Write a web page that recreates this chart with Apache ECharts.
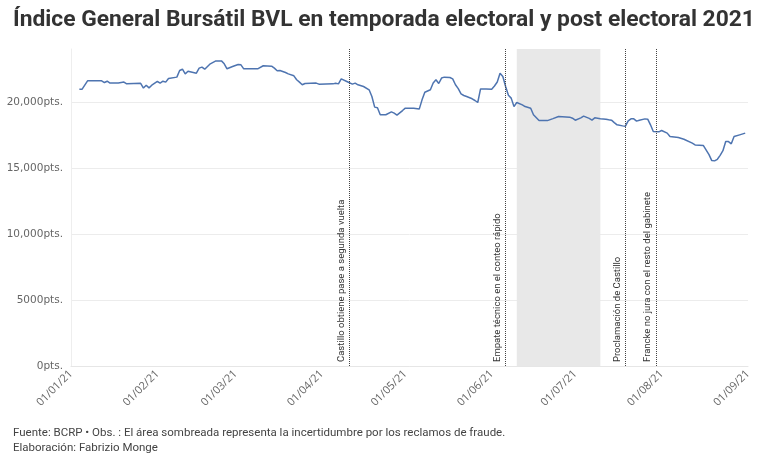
<!DOCTYPE html>
<html>
<head>
<meta charset="utf-8">
<script src="https://cdn.jsdelivr.net/npm/echarts@6/dist/echarts.min.js"></script>
<style>
  html, body { margin: 0; padding: 0; background: #fff; }
  #chart { width: 768px; height: 462px; }
</style>
</head>
<body>
<div id="chart"></div>
<script>
// fechas (2021) y valores del IGBVL
var dates = [
  '01-04', '01-05', '01-07', '01-09', '01-12', '01-13', '01-14', '01-15', '01-18', '01-20',
  '01-21', '01-26', '01-27', '01-28', '01-29', '01-30', '02-01', '02-02', '02-03', '02-04',
  '02-05', '02-08', '02-09', '02-10', '02-11', '02-12', '02-15', '02-16', '02-17', '02-18',
  '02-20', '02-22', '02-24', '02-25', '02-26', '02-28', '03-02', '03-03', '03-04', '03-09',
  '03-11', '03-14', '03-15', '03-16', '03-17', '03-19', '03-20', '03-22', '03-23', '03-24',
  '03-25', '03-26', '03-30', '03-31', '04-05', '04-06', '04-07', '04-08', '04-10', '04-12',
  '04-13', '04-14', '04-16', '04-18', '04-19', '04-20', '04-21', '04-22', '04-24', '04-26',
  '04-27', '04-28', '04-30', '05-01', '05-04', '05-06', '05-07', '05-08', '05-10', '05-11',
  '05-12', '05-13', '05-14', '05-15', '05-17', '05-18', '05-19', '05-20', '05-21', '05-22',
  '05-23', '05-25', '05-26', '05-27', '05-28', '05-30', '06-01', '06-02', '06-03', '06-04',
  '06-05', '06-06', '06-07', '06-08', '06-09', '06-10', '06-12', '06-13', '06-15', '06-16',
  '06-18', '06-21', '06-23', '06-25', '06-29', '06-30', '07-01', '07-03', '07-04', '07-06',
  '07-07', '07-08', '07-10', '07-12', '07-13', '07-14', '07-15', '07-16', '07-18', '07-19',
  '07-20', '07-21', '07-22', '07-23', '07-24', '07-26', '07-27', '07-28', '07-29', '07-31',
  '08-01', '08-03', '08-04', '08-07', '08-09', '08-12', '08-13', '08-16', '08-18', '08-19',
  '08-20', '08-21', '08-22', '08-23', '08-24', '08-25', '08-26', '08-27', '08-29', '08-31'
]
var values = [
  20950, 20960, 21600, 21590, 21590, 21460, 21560, 21420, 21420, 21500,
  21360, 21400, 21040, 21260, 21060, 21260, 21540, 21420, 21560, 21490,
  21770, 21870, 22370, 22470, 22120, 22320, 22170, 22550, 22630, 22470,
  22880, 23100, 23100, 22880, 22500, 22670, 22830, 22800, 22500, 22500,
  22730, 22700, 22550, 22350, 22370, 22220, 22120, 21970, 21670, 21490,
  21290, 21390, 21420, 21340, 21360, 21400, 21360, 21740, 21540, 21340,
  21420, 21290, 21160, 20910, 20400, 19600, 19550, 19020, 19020, 19240,
  19140, 18990, 19340, 19520, 19520, 19450, 20150, 20730, 20910, 21420,
  21670, 21390, 21800, 21870, 21840, 21740, 21290, 21000, 20600, 20480,
  20400, 20230, 20100, 19950, 20980, 20980, 20960, 21200, 21500, 22170,
  21920, 21160, 20500, 20280, 19640, 19950, 19770, 19640, 19520, 19020,
  18580, 18580, 18730, 18890, 18840, 18760, 18610, 18790, 18920, 18750,
  18620, 18790, 18720, 18680, 18640, 18610, 18430, 18260, 18180, 18160,
  18560, 18710, 18710, 18540, 18610, 18710, 18690, 18260, 17750, 17730,
  17830, 17630, 17370, 17300, 17170, 16870, 16740, 16690, 16000, 15550,
  15530, 15650, 15950, 16300, 16990, 16990, 16820, 17370, 17500, 17630
]
// eventos
var eventDates = ['2021-04-11', '2021-06-06', '2021-07-19', '2021-07-30']
var eventLabels = [
  'Castillo obtiene pase a segunda vuelta',
  'Empate técnico en el conteo rápido',
  'Proclamación de Castillo',
  'Francke no jura con el resto del gabinete'
]
// periodo sombreado
var shadeRange = ['2021-06-10', '2021-07-10']

var chart = echarts.init(document.getElementById('chart'))

var seriesData = []
for (var i = 0; i < dates.length; i++) {
  seriesData.push(['2021-' + dates[i], values[i]])
}

var marks = []
for (var j = 0; j < eventDates.length; j++) {
  marks.push({ xAxis: eventDates[j], label: { formatter: eventLabels[j] } })
}

function pad(n) {
  return n < 10 ? '0' + n : '' + n
}

var font = 'Roboto, "Noto Sans", sans-serif'
var axisFont = '"Open Sans", "Noto Sans", sans-serif'

chart.setOption({
  animation: false,
  title: [
    {
      text: 'Índice General Bursátil BVL en temporada electoral y post electoral 2021',
      left: 8,
      top: 4,
      textStyle: {
        fontFamily: font,
        fontSize: 22.8,
        fontWeight: 'bold',
        color: '#333'
      }
    },
    {
      text: 'Fuente: BCRP • Obs. : El área sombreada representa la incertidumbre por los reclamos de fraude.\nElaboración: Fabrizio Monge',
      left: 8,
      top: 421,
      textStyle: {
        fontFamily: font,
        fontSize: 11.5,
        fontWeight: 'normal',
        color: '#444',
        lineHeight: 15
      }
    }
  ],
  grid: {
    left: 71,
    right: 20,
    top: 49,
    bottom: 96,
    containLabel: false
  },
  xAxis: {
    type: 'time',
    min: '2021-01-01',
    max: '2021-09-01',
    minInterval: 28 * 86400000,
    maxInterval: 31 * 86400000,
    axisLine: { lineStyle: { color: '#e6e6e6' } },
    axisTick: { show: false },
    splitLine: { show: false },
    axisLabel: {
      rotate: 45,
      margin: 6,
      color: '#666',
      fontFamily: axisFont,
      fontSize: 11,
      showMinLabel: true,
      showMaxLabel: true,
      formatter: function (val) {
        var d = new Date(val)
        return pad(d.getDate()) + '/' + pad(d.getMonth() + 1) + '/' + String(d.getFullYear()).slice(2)
      }
    }
  },
  yAxis: {
    type: 'value',
    min: 0,
    max: 24000,
    interval: 5000,
    axisLine: { show: true, lineStyle: { color: '#eeeeee' } },
    axisTick: { show: false },
    splitLine: {
      showMaxLine: false,
      lineStyle: { color: '#ececec' }
    },
    axisLabel: {
      showMaxLabel: false,
      margin: 8,
      color: '#666',
      fontFamily: '"DejaVu Sans", sans-serif',
      fontSize: 10.5,
      formatter: function (v) {
        if (v >= 10000) {
          return v.toLocaleString('en-US') + 'pts.'
        }
        return v + 'pts.'
      }
    }
  },
  series: [
    {
      type: 'line',
      data: seriesData,
      showSymbol: false,
      symbol: 'none',
      lineStyle: { color: '#4e74b0', width: 1.5 },
      markArea: {
        silent: true,
        itemStyle: { color: '#e8e8e8' },
        data: [[{ xAxis: shadeRange[0] }, { xAxis: shadeRange[1] }]]
      },
      markLine: {
        silent: true,
        symbol: 'none',
        lineStyle: { color: '#444', type: 'dotted', width: 1 },
        label: {
          position: 'insideStartTop',
          distance: [4, 3],
          color: '#333',
          fontFamily: font,
          fontSize: 9.5
        },
        data: marks
      }
    }
  ]
})
</script>
</body>
</html>
